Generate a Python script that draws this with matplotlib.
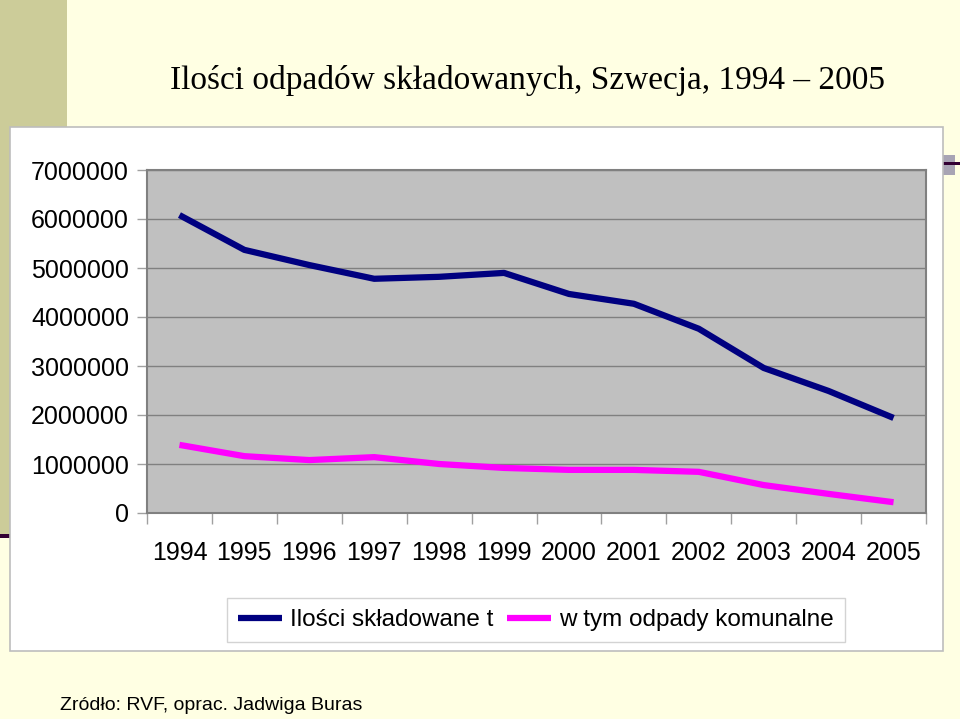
import matplotlib.pyplot as plt
from matplotlib.patches import Rectangle

plt.rcParams["font.family"] = ["Liberation Sans", "DejaVu Sans"]

years = ["1994", "1995", "1996", "1997", "1998", "1999",
         "2000", "2001", "2002", "2003", "2004", "2005"]
skladowane = [6080000, 5370000, 5060000, 4780000, 4820000, 4900000,
              4470000, 4270000, 3760000, 2960000, 2490000, 1940000]
komunalne = [1390000, 1160000, 1080000, 1140000, 1000000, 920000,
             880000, 880000, 840000, 570000, 390000, 220000]
yticks = [0, 1000000, 2000000, 3000000, 4000000, 5000000, 6000000, 7000000]

W, H = 960, 719
fig = plt.figure(figsize=(9.6, 7.19), dpi=100)
fig.patch.set_facecolor("#FFFFE3")

def box(x0, y0, x1, y1, **kw):
    # pixel coords, origin top-left
    fig.patches.append(Rectangle((x0 / W, 1 - y1 / H), (x1 - x0) / W, (y1 - y0) / H,
                                 transform=fig.transFigure, **kw))

# slide decorations
box(0, 0, 67, 534, facecolor="#CCCC99", edgecolor="none", zorder=-3)
box(0, 534, 12, 538, facecolor="#330033", edgecolor="none", zorder=-3)
box(943, 155, 955, 175, facecolor="#A8A4B4", edgecolor="none", zorder=-3)
box(943, 162, 960, 165, facecolor="#330033", edgecolor="none", zorder=-3)
# chart box
box(10, 127, 943, 651, facecolor="white", edgecolor="#BDBDBD", linewidth=1.2, zorder=-2)

ax = fig.add_axes([147 / W, 1 - 513 / H, (926 - 147) / W, (513 - 170) / H])
ax.set_zorder(1)
ax.set_facecolor("#C0C0C0")
x = list(range(len(years)))
ax.plot(x, skladowane, color="#000080", linewidth=4.5, solid_capstyle="butt",
        label="Ilości składowane t")
ax.plot(x, komunalne, color="#FF00FF", linewidth=4.5, solid_capstyle="butt",
        label="w tym odpady komunalne")

ax.set_xlim(-0.5, len(years) - 0.5)
ax.set_ylim(0, 7000000)
ax.set_yticks(yticks)
ax.set_yticklabels([str(v) for v in yticks])
ax.yaxis.grid(True, color="#808080", linewidth=1)
ax.set_axisbelow(True)
ax.set_xticks(x)
ax.set_xticklabels(years)
ax.set_xticks([i - 0.5 for i in range(len(years) + 1)], minor=True)
ax.tick_params(axis="x", which="major", length=0, pad=20, labelsize=18)
ax.tick_params(axis="x", which="minor", length=8, color="#A0A0A0", width=1)
ax.tick_params(axis="y", length=7, color="#A0A0A0", width=1, pad=6, labelsize=18)
for lbl in ax.get_yticklabels():
    lbl.set_verticalalignment("center_baseline")
for s in ax.spines.values():
    s.set_color("#808080")
    s.set_linewidth(1.5)

leg = fig.legend(loc="center", bbox_to_anchor=(536 / W, 1 - 620 / H), ncol=2,
                 fontsize=17.5, frameon=True, fancybox=False, edgecolor="#C8C8C8",
                 handlelength=1.8, handletextpad=0.35, columnspacing=0.55,
                 borderpad=0.45)
leg.set_zorder(2)

fig.text(528 / W, 1 - 80 / H, "Ilości odpadów składowanych, Szwecja, 1994 – 2005",
         family="Liberation Serif", fontsize=24, ha="center", va="center")
fig.text(60 / W, 1 - 705 / H, "Zródło: RVF, oprac. Jadwiga Buras",
         fontsize=14, ha="left", va="center")

fig.savefig("out.png", dpi=100, facecolor=fig.get_facecolor())
